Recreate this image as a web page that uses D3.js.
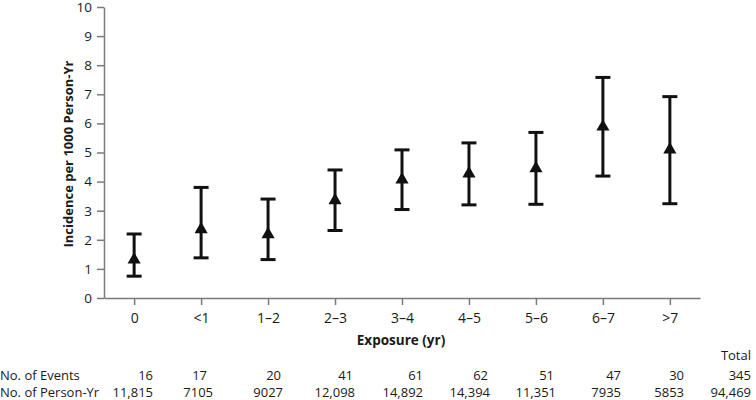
<!DOCTYPE html>
<html><head><meta charset="utf-8">
<script src="https://cdn.jsdelivr.net/npm/d3@7"></script>
<style>
body{margin:0;background:#fff;}
svg{display:block;font-family:"Open Sans",Lato,sans-serif;}
</style></head>
<body><svg id="c" width="756" height="400"></svg>
<script>
const categories = ["0","<1","1\u20132","2\u20133","3\u20134","4\u20135","5\u20136","6\u20137",">7"];
const incidence = [1.35, 2.39, 2.22, 3.39, 4.10, 4.31, 4.49, 5.92, 5.13];
const ciLower = [0.75, 1.38, 1.32, 2.32, 3.04, 3.20, 3.22, 4.19, 3.24];
const ciUpper = [2.20, 3.80, 3.40, 4.40, 5.09, 5.33, 5.69, 7.58, 6.92];
const yTicks = [0,1,2,3,4,5,6,7,8,9,10];
const events = ["16","17","20","41","61","62","51","47","30"];
const personYr = ["11,815","7105","9027","12,098","14,892","14,394","11,351","7935","5853"];
const totalEvents = "345";
const totalPersonYr = "94,469";

const svg = d3.select("#c");
const axisColor = "#7a7a7a";
const textColor = "#1a1a1a";
const x = d3.scalePoint().domain(categories).range([104,700]).padding(0.45);
const y = d3.scaleLinear().domain([0,10]).range([298,7]);

// Y axis
const ya = svg.append("g").attr("transform","translate(104,0)")
  .call(d3.axisLeft(y).tickValues(yTicks).tickSize(7).tickPadding(5).tickSizeOuter(0));
ya.select(".domain").attr("stroke",axisColor).attr("stroke-width",1.5);
ya.selectAll(".tick line").attr("stroke",axisColor).attr("stroke-width",1.5);
ya.selectAll(".tick text").attr("font-size",13.5).attr("fill",textColor).attr("font-family","Open Sans");

// X axis
const xa = svg.append("g").attr("transform","translate(0,298)")
  .call(d3.axisBottom(x).tickSize(7).tickPadding(8).tickSizeOuter(0));
xa.select(".domain").attr("stroke",axisColor).attr("stroke-width",1.5);
xa.selectAll(".tick line").attr("stroke",axisColor).attr("stroke-width",1.5);
xa.selectAll(".tick text").attr("font-size",14).attr("fill",textColor).attr("font-family","Open Sans");

// Titles
svg.append("text").attr("transform","translate(73,154) rotate(-90)")
  .attr("text-anchor","middle").attr("font-size",13).attr("font-weight","bold").attr("fill",textColor)
  .text("Incidence per 1000 Person-Yr");
svg.append("text").attr("x",401).attr("y",345)
  .attr("text-anchor","middle").attr("font-size",13.5).attr("font-weight","bold").attr("fill",textColor)
  .text("Exposure (yr)");

// Error bars
const data = categories.map((c,i)=>({c, v:incidence[i], lo:ciLower[i], hi:ciUpper[i]}));
const g = svg.append("g");
const capW = 7.5;
g.selectAll(".v").data(data).join("line")
  .attr("x1",d=>x(d.c)).attr("x2",d=>x(d.c)).attr("y1",d=>y(d.lo)).attr("y2",d=>y(d.hi))
  .attr("stroke","#111").attr("stroke-width",3);
g.selectAll(".cl").data(data).join("line")
  .attr("x1",d=>x(d.c)-capW).attr("x2",d=>x(d.c)+capW).attr("y1",d=>y(d.lo)).attr("y2",d=>y(d.lo))
  .attr("stroke","#111").attr("stroke-width",3);
g.selectAll(".cu").data(data).join("line")
  .attr("x1",d=>x(d.c)-capW).attr("x2",d=>x(d.c)+capW).attr("y1",d=>y(d.hi)).attr("y2",d=>y(d.hi))
  .attr("stroke","#111").attr("stroke-width",3);
g.selectAll(".m").data(data).join("path")
  .attr("d",d3.symbol(d3.symbolTriangle,75))
  .attr("transform",d=>`translate(${x(d.c)},${y(d.v)+1})`)
  .attr("fill","#111");

// Table
const evRight = [153,207,281,353,423,488,554,621,684];
const pyRight = [153,213,283,355,423,490,556,621,684];
const tg = svg.append("g").attr("font-size",13).attr("fill",textColor);
tg.append("text").attr("x",751).attr("y",360).attr("text-anchor","end").text("Total");
tg.append("text").attr("x",0).attr("y",380).text("No. of Events");
tg.append("text").attr("x",0).attr("y",397).text("No. of Person-Yr");
tg.selectAll(".ev").data(events).join("text")
  .attr("x",(d,i)=>evRight[i]).attr("y",380).attr("text-anchor","end").text(d=>d);
tg.selectAll(".py").data(personYr).join("text")
  .attr("x",(d,i)=>pyRight[i]).attr("y",397).attr("text-anchor","end").text(d=>d);
tg.append("text").attr("x",751).attr("y",380).attr("text-anchor","end").text(totalEvents);
tg.append("text").attr("x",751).attr("y",397).attr("text-anchor","end").text(totalPersonYr);
</script></body></html>
